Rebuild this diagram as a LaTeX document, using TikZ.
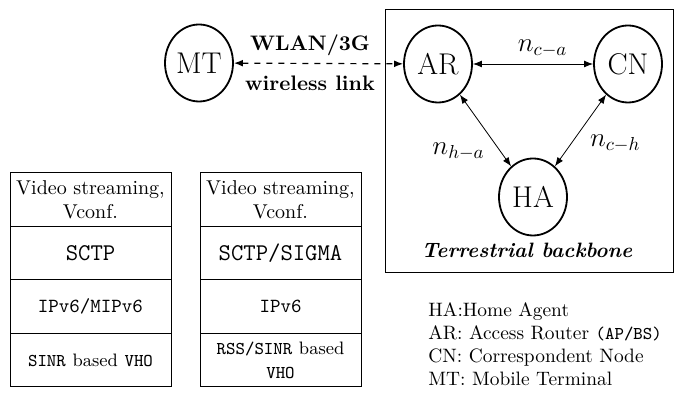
\documentclass[tikz,border=0pt]{standalone}
\usetikzlibrary{arrows.meta,positioning,shapes.geometric}
\begin{document}
\begin{tikzpicture}[x=0.5pt,y=-0.5pt,
  station/.style={draw, line width=0.9pt, ellipse, minimum width=34pt,
    minimum height=38.5pt, inner sep=0pt, font=\fontsize{15}{18}\selectfont},
  layer/.style={draw, line width=0.5pt, outer sep=0pt, minimum width=80.5pt,
    minimum height=26.75pt, inner sep=1pt, text width=78.5pt, align=center},
  link/.style={{Latex[length=4.5pt,width=3.4pt]}-{Latex[length=4.5pt,width=3.4pt]},
    line width=0.4pt},
  cost/.style={font=\Large, scale=0.94},
  linkname/.style={font=\fontsize{10.5}{12.6}\selectfont\bfseries}
]
\useasboundingbox (0,0) rectangle (675,394);

% terrestrial backbone frame
\node[draw, line width=0.5pt, minimum width=144pt, minimum height=131.5pt,
  inner sep=0pt] (backbone) at (529,141.5) {};
\node[font=\fontsize{10.4}{12.5}\selectfont\bfseries\itshape] (tb) at (527,250)
  {Terrestrial backbone};

% network entities
\node[station] (MT) at (199,63) {MT};
\node[station] (AR) at (438,64) {AR};
\node[station] (CN) at (628,64) {CN};
\node[station] (HA) at (533,197) {HA};

% links
\draw[link, dashed, line width=0.6pt] (MT) -- (AR)
  node[pos=0.45, above, linkname] {WLAN/3G}
  node[pos=0.45, below=2.5pt, linkname] {wireless link};
\draw[link] (AR) -- (CN) node[pos=0.58, above, cost] {$n_{c-a}$};
\draw[link] (AR) -- (HA)
  node[pos=0.69, left, xshift=-2pt, yshift=-3.5pt, cost] {$n_{h-a}$};
\draw[link] (CN) -- (HA)
  node[pos=0.62, right=2pt, xshift=2.5pt, yshift=-2pt, cost] {$n_{c-h}$};

% protocol stack: SCTP
\node[layer, anchor=north] (L1) at (90.5,173) {Video streaming,\\ Vconf.};
\node[layer, below=0pt of L1] (L2) {\large\ttfamily SCTP};
\node[layer, below=0pt of L2] (L3) {\ttfamily IPv6/MIPv6};
\node[layer, below=0pt of L3] (L4) {\small\texttt{SINR} based \texttt{VHO}};

% protocol stack: SCTP/SIGMA
\node[layer, anchor=north] (R1) at (280.5,173) {Video streaming,\\ Vconf.};
\node[layer, below=0pt of R1] (R2) {\large\ttfamily SCTP/SIGMA};
\node[layer, below=0pt of R2] (R3) {\ttfamily IPv6};
\node[layer, below=0pt of R3] (R4) {\small\texttt{RSS/SINR} based\\ \texttt{VHO}};

% legend
\node[anchor=north west, align=left, inner sep=0pt,
  font=\fontsize{9.7}{11.6}\selectfont] (legend) at (428,302)
  {HA:Home Agent\\ AR: Access Router {\small\ttfamily (AP/BS)}\\
   CN: Correspondent Node\\ MT: Mobile Terminal};
\end{tikzpicture}
\end{document}
